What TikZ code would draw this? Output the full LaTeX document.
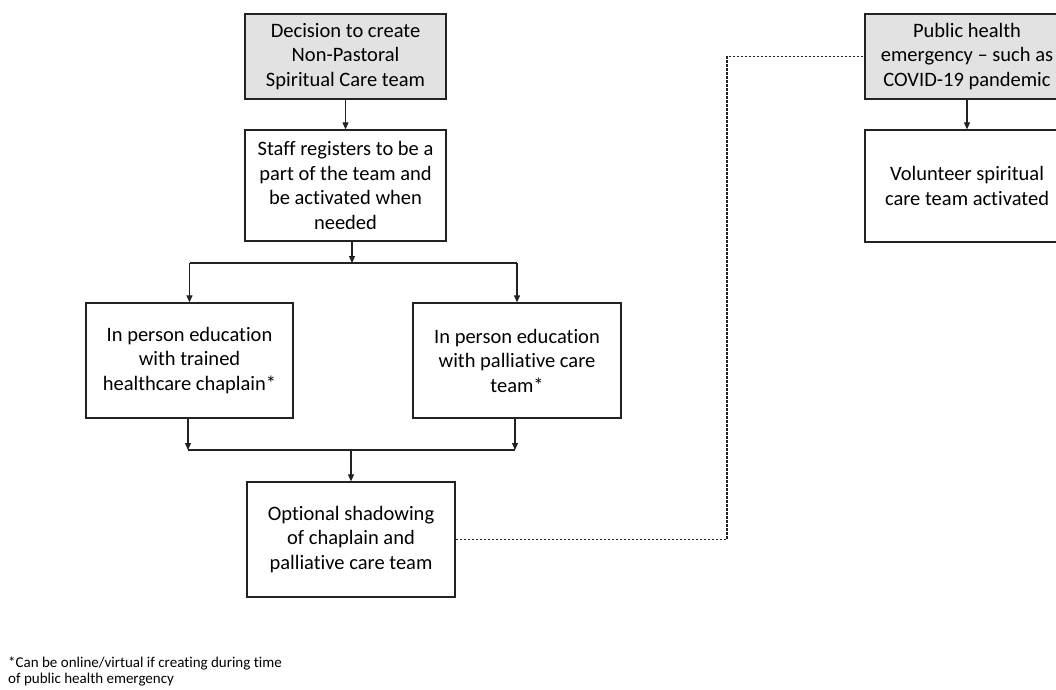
\documentclass[tikz,border=0pt]{standalone}
\usepackage{fontspec}
\setmainfont{Carlito}[Ligatures={NoCommon}]
\usetikzlibrary{arrows.meta}
\definecolor{boxgray}{HTML}{E2E2E2}
\definecolor{linecol}{HTML}{222222}
\tikzset{
  box/.style={draw=linecol, line width=1.3pt, align=center, inner sep=2pt,
    font=\fontsize{20.5}{24.5}\selectfont, text=black},
  graybox/.style={box, fill=boxgray},
  arr/.style={draw=linecol, line width=1.1pt, -{Triangle[length=7pt,width=6pt]}},
  plain/.style={draw=linecol, line width=1.1pt},
  dotline/.style={draw=linecol, line width=1.1pt, dash pattern=on 2.5pt off 1.5pt},
}
\begin{document}
\begin{tikzpicture}[x=1pt,y=-1pt]
\clip (0,0) rectangle (1056,689);
\fill[white] (0,0) rectangle (1056,689);

\node[graybox, minimum width=201pt, minimum height=85pt] (b1) at (345.5,56.5)
  {Decision to create\\Non-Pastoral\\Spiritual Care team};
\node[box, minimum width=201pt, minimum height=111pt] (b2) at (345.5,185.5)
  {Staff registers to be a\\part of the team and\\be activated when\\needed};
\node[box, minimum width=207pt, minimum height=115pt] (b3) at (189.5,360.5)
  {In person education\\with trained\\healthcare chaplain*};
\node[box, minimum width=208pt, minimum height=115pt] (b4) at (517,360.5)
  {In person education\\with palliative care\\team*};
\node[box, minimum width=208pt, minimum height=115pt] (b5) at (351,539.5)
  {Optional shadowing\\of chaplain and\\palliative care team};
\node[graybox, minimum width=204pt, minimum height=85pt] (b6) at (967,56.5)
  {Public health\\emergency -- such as\\COVID-19 pandemic};
\node[box, minimum width=204pt, minimum height=112pt] (b7) at (967,186)
  {Volunteer spiritual\\care team activated};

\node[anchor=north west, align=left, inner sep=0pt,
  font=\fontsize{15}{16}\selectfont] (fn) at (8,657)
  {*Can be online/virtual if creating during time\\of public health emergency};

% top split
\coordinate (j1) at (352,263);
\coordinate (j1l) at (b3.north |- j1);
\coordinate (j1r) at (b4.north |- j1);
\draw[arr] (b1.south) -- (b2.north);
\draw[arr] (b2.south -| j1) -- (j1);
\draw[plain] (j1l) -- (j1r);
\draw[arr] (j1l) -- (b3.north);
\draw[arr] (j1r) -- (b4.north);

% bottom merge
\coordinate (j2) at (b5.north |- 0,450);
\coordinate (j2l) at (188,450);
\coordinate (j2r) at (515,450);
\draw[arr] (b3.south -| j2l) -- (j2l);
\draw[arr] (b4.south -| j2r) -- (j2r);
\draw[plain] (j2l) -- (j2r);
\draw[arr] (j2) -- (b5.north);

% right side
\coordinate (d1) at (727,0 |- b5.east);
\coordinate (d2) at (727,0 |- b6.west);
\draw[dotline] (b5.east) -- (d1) -- (d2) -- (b6.west);
\draw[arr] (b6.south) -- (b7.north);
\end{tikzpicture}
\end{document}
